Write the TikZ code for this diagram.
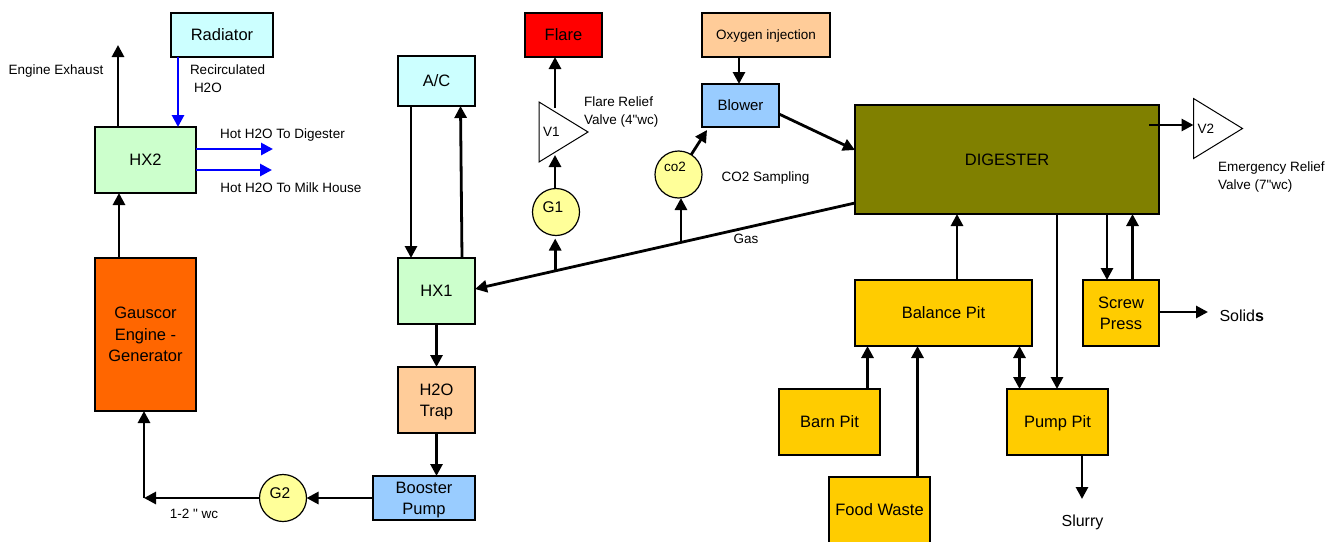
\documentclass[tikz,border=0pt]{standalone}
\usepackage{fontspec}
\setmainfont{Liberation Sans}[Ligatures=TeXOff]
\usetikzlibrary{arrows.meta,positioning,shapes.geometric}
\definecolor{palecyan}{HTML}{CCFFFF}
\definecolor{palegreen}{HTML}{CCFFCC}
\definecolor{engineorange}{HTML}{FF6600}
\definecolor{peach}{HTML}{FFCC99}
\definecolor{paleblue}{HTML}{99CCFF}
\definecolor{pitgold}{HTML}{FFCC00}
\definecolor{digesterolive}{HTML}{808000}
\definecolor{gaugeyellow}{HTML}{FFFF99}
\begin{document}
\begin{tikzpicture}[x=1pt,y=-1pt]
    \tikzstyle{unit}=[rectangle, draw=black, line width=2.6pt, inner sep=0pt, outer sep=0pt, align=center, text height=14pt, text depth=2.2pt, font=\fontsize{16.5}{21.5}\selectfont]
    \tikzstyle{twolines}=[text height=35.5pt]
    \tikzstyle{threelines}=[text height=57pt]
    \tikzstyle{smallunit}=[text height=12pt, text depth=2.3pt, font=\fontsize{13.5}{16}\selectfont]
    \tikzstyle{gauge}=[circle, draw=black, line width=1.2pt, fill=gaugeyellow, minimum size=47pt, inner sep=0pt, outer sep=0pt, text height=10pt, text depth=10pt, font=\fontsize{15.5}{18}\selectfont]
    \tikzstyle{valve}=[isosceles triangle, isosceles triangle stretches, draw=black, line width=1pt, fill=white, minimum width=60pt, minimum height=49pt, inner sep=0pt, outer sep=0pt, anchor=lower side, font=\fontsize{13.5}{16}\selectfont]
    \tikzstyle{tag}=[inner sep=0pt, outer sep=0pt, align=left, font=\fontsize{13.5}{18}\selectfont]
    \tikzstyle{connect}=[-{Triangle[length=12pt,width=12pt]}, line width=2.8pt]
    \tikzstyle{hotwater}=[connect, blue]

      \path[use as bounding box] (0,0) rectangle (1328,541);

      \node[unit, fill=palecyan, minimum width=102pt, minimum height=44pt] (radiator) at (222,35) {Radiator};
      \node[unit, fill=palegreen, minimum width=101pt, minimum height=66pt] (hx2) at (145.5,160) {HX2};
      \node[unit, threelines, fill=engineorange, minimum width=101pt, minimum height=153pt] (engine) [below=65pt of hx2] {Gauscor\\Engine -\\Generator};
      \node[unit, fill=palecyan, minimum width=77pt, minimum height=50pt] (ac) at (436.5,81) {A/C};
      \node[unit, fill=palegreen, minimum width=77pt, minimum height=66pt] (hx1) [below=152pt of ac] {HX1};
      \node[unit, twolines, fill=peach, minimum width=77pt, minimum height=66pt] (trap) [below=43pt of hx1] {H2O\\Trap};
      \node[unit, twolines, fill=paleblue, minimum width=102pt, minimum height=44pt] (booster) at (424,498) {Booster\\Pump};
      \node[unit, fill=red, minimum width=77pt, minimum height=44pt] (flare) at (563.5,35) {Flare};
      \node[unit, smallunit, fill=peach, minimum width=128pt, minimum height=44pt] (oxygen) at (766,35) {Oxygen injection};
      \node[unit, fill=paleblue, minimum width=77pt, minimum height=43pt, text height=13pt, font=\fontsize{15}{18}\selectfont] (blower) at (740.5,105.5) {Blower};
      \node[unit, fill=digesterolive, minimum width=304pt, minimum height=109pt] (digester) at (1007,159.5) {DIGESTER};
      \node[unit, fill=pitgold, minimum width=177pt, minimum height=66pt] (balance) at (943.5,313) {Balance Pit};
      \node[unit, twolines, fill=pitgold, minimum width=76pt, minimum height=66pt] (screw) [right=51pt of balance] {Screw\\Press};
      \node[unit, fill=pitgold, minimum width=101pt, minimum height=66pt] (barn) at (829.5,422) {Barn Pit};
      \node[unit, fill=pitgold, minimum width=101pt, minimum height=66pt] (pump) at (1057.5,422) {Pump Pit};
      \node[unit, fill=pitgold, minimum width=101pt, minimum height=66pt] (food) at (879.5,510) {Food Waste};

      \node[gauge] (g1) at (556,212) {G1\hspace*{6pt}};
      \node[gauge, text height=8pt, text depth=14.6pt, font=\fontsize{13.5}{16}\selectfont] (co2) at (678.5,174.5) {co2\hspace*{7pt}};
      \node[gauge] (g2) at (283,498) {G2\hspace*{6pt}};
      \node[valve] (v1) at (539,132) {V1\hspace*{13pt}};
      \node[valve] (v2) at (1193.5,128.5) {V2\hspace*{13pt}};

      \node[tag] (exhausttag) at (56,71) {Engine Exhaust};
      \node[tag, anchor=north west] (recirctag) at (190,65) {Recirculated\\\hspace*{4pt}H2O};
      \node[tag] (digestertag) at (282.5,135.5) {Hot H2O To Digester};
      \node[tag] (milktag) at (291,188) {Hot H2O To Milk House};
      \node[tag, anchor=north west] (flaretag) at (584,97) {Flare Relief\\Valve (4"wc)};
      \node[tag] (samplingtag) at (765.5,178.5) {CO2 Sampling};
      \node[tag] (gastag) at (746,239) {Gas};
      \node[tag, anchor=north west] (emergencytag) at (1218,161.5) {Emergency Relief\\Valve (7"wc)};
      \node[tag, anchor=west, font=\fontsize{16}{18}\selectfont] (solidstag) at (1219.5,316) {Solid\textbf{s}};
      \node[tag, font=\fontsize{16}{18}\selectfont] (slurrytag) at (1082.5,522.5) {Slurry};
      \node[tag] (wctag) at (194,514) {1-2 " wc};

      \coordinate (exhaust) at (118,45);
      \coordinate (hotdigester) at (273,149);
      \coordinate (hotmilk) at (272,170);
      \coordinate (corner) at (144,498);
      \coordinate (v1in) at (555,155);
      \coordinate (v1out) at (555,108);
      \coordinate (solidsend) at (1208,312);
      \coordinate (slurryend) at (1082,499);

      \draw[connect] ([yshift=-43.5]digester.west) -- coordinate[pos=0.458] (tapco2) coordinate[pos=0.789] (tapg1) ([yshift=2]hx1.east);
      \path
        ([xshift=-27.5]hx2.north) edge [connect] (exhaust)
        ([xshift=-26.5]engine.north) edge [connect] ([xshift=-26.5]hx2.south)
        ([xshift=-44]radiator.south) edge [hotwater] ([xshift=32.5]hx2.north)
        ([yshift=11]hx2.east) edge [hotwater] (hotdigester)
        ([yshift=-10]hx2.east) edge [hotwater] (hotmilk)
        ([xshift=-25.5]ac.south) edge [connect] ([xshift=-25.5]hx1.north)
        ([xshift=25.5]hx1.north) edge [connect] ([xshift=24]ac.south)
        (hx1.south) edge [connect] (trap.north)
        (trap.south) edge [connect] ([xshift=12.5]booster.north)
        (booster.west) edge [connect] (g2)
        (g2) edge [connect] (corner)
        (corner) edge [connect] ([xshift=-1.5]engine.south)
        (tapg1) edge [connect, shorten >=3pt] (tapg1 |- g1.south)
        ([xshift=-1]g1.north) edge [connect] (v1in)
        (v1out) edge [connect] ([xshift=-8.5]flare.south)
        (tapco2) edge [connect] (tapco2 |- co2.south)
        (co2) edge [connect] ([xshift=5,yshift=-3]blower.south west)
        ([xshift=-27]oxygen.south) edge [connect] ([xshift=-1.5]blower.north)
        ([yshift=-8.5]blower.east) edge [connect] ([yshift=9.5]digester.west)
        ([xshift=-10,yshift=34.5]digester.east) edge [connect] ([yshift=3.5]v2.lower side)
        ([xshift=13.5]balance.north) edge [connect] ([xshift=-50]digester.south)
        ([xshift=50]digester.south) edge [connect] ([xshift=-0.5]pump.north)
        ([xshift=100]digester.south) edge [connect] ([xshift=-14]screw.north)
        ([xshift=11.5]screw.north) edge [connect] ([xshift=125.5]digester.south)
        ([yshift=1]screw.east) edge [connect] (solidsend)
        ([xshift=38]barn.north) edge [connect] ([xshift=-76]balance.south)
        ([xshift=38]food.north) edge [connect] ([xshift=-26]balance.south)
        ([xshift=-38]pump.north) edge [connect, {Triangle[length=12pt,width=12pt]}-{Triangle[length=12pt,width=12pt]}] ([xshift=76]balance.south)
        ([xshift=24.5]pump.south) edge [connect] (slurryend);
    \end{tikzpicture}
\end{document}
